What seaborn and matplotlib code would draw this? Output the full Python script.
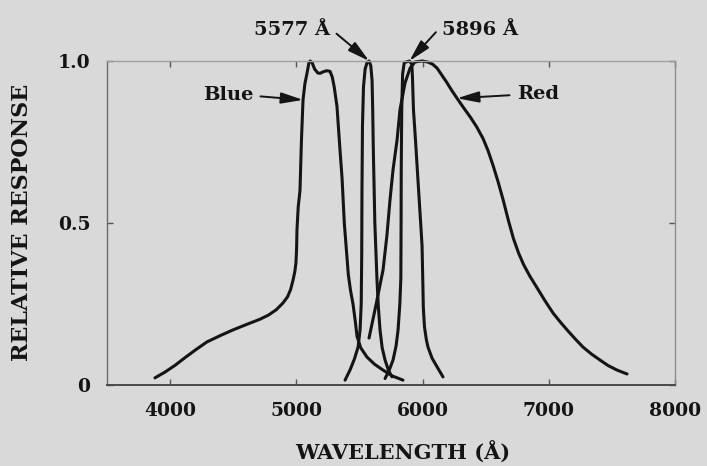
import matplotlib
matplotlib.use("Agg")
import matplotlib.pyplot as plt
import pandas as pd
import seaborn as sns

# Filter response curves: wavelength (Å) and relative response
blue_wl = [3880, 3960, 4040, 4120, 4200, 4292, 4400, 4498, 4600, 4712, 4780, 4840,
           4894, 4930, 4955, 4974, 4988, 4997, 5002, 5005, 5015, 5029, 5040, 5053,
           5068, 5085, 5100, 5110, 5125, 5145, 5170, 5188, 5215, 5240, 5267, 5285,
           5300, 5322, 5346, 5362, 5380, 5400, 5412, 5430, 5449, 5466, 5481, 5510,
           5560, 5620, 5687, 5760, 5845]
blue_resp = [0.022, 0.040, 0.061, 0.085, 0.108, 0.133, 0.153, 0.170, 0.186, 0.203, 0.216, 0.232,
             0.253, 0.272, 0.295, 0.324, 0.350, 0.377, 0.420, 0.478, 0.550, 0.600, 0.750, 0.880,
             0.930, 0.963, 0.995, 1.000, 0.995, 0.975, 0.963, 0.962, 0.967, 0.970, 0.968, 0.950,
             0.920, 0.860, 0.725, 0.640, 0.500, 0.400, 0.340, 0.290, 0.250, 0.200, 0.150, 0.115,
             0.086, 0.064, 0.046, 0.028, 0.015]

line5577_wl = [5386, 5425, 5460, 5489, 5505, 5514, 5518, 5520, 5524, 5532, 5545, 5560,
               5577, 5590, 5600, 5605, 5610, 5622, 5639, 5650, 5663, 5680, 5703, 5730, 5758]
line5577_resp = [0.015, 0.046, 0.080, 0.117, 0.170, 0.250, 0.400, 0.600, 0.800, 0.920, 0.975, 0.995,
                 1.000, 0.985, 0.940, 0.850, 0.725, 0.500, 0.324, 0.240, 0.170, 0.115, 0.077, 0.045, 0.025]

line5896_wl = [5703, 5735, 5766, 5790, 5806, 5820, 5828, 5830, 5831, 5835, 5842, 5855,
               5896, 5915, 5920, 5928, 5945, 5964, 5985, 5996, 6002, 6006, 6015, 6030,
               6043, 6075, 6115, 6162]
line5896_resp = [0.020, 0.045, 0.077, 0.120, 0.170, 0.250, 0.330, 0.500, 0.660, 0.850, 0.960, 0.995,
                 1.000, 0.990, 0.950, 0.850, 0.750, 0.630, 0.500, 0.430, 0.320, 0.240, 0.180, 0.140,
                 0.117, 0.083, 0.056, 0.025]

red_wl = [5576, 5631, 5687, 5718, 5742, 5766, 5798, 5821, 5861, 5901, 5940, 5996,
          6040, 6080, 6115, 6150, 6190, 6230, 6273, 6330, 6380, 6430, 6480, 6520,
          6560, 6600, 6638, 6680, 6720, 6760, 6800, 6850, 6907, 6970, 7034, 7090,
          7145, 7210, 7271, 7340, 7406, 7470, 7541, 7620]
red_resp = [0.145, 0.247, 0.355, 0.463, 0.571, 0.664, 0.756, 0.849, 0.932, 0.978, 0.997, 1.000,
            0.997, 0.990, 0.978, 0.958, 0.935, 0.910, 0.885, 0.853, 0.826, 0.796, 0.760, 0.722,
            0.676, 0.625, 0.572, 0.508, 0.452, 0.408, 0.372, 0.336, 0.300, 0.260, 0.222, 0.195,
            0.170, 0.142, 0.117, 0.095, 0.077, 0.060, 0.046, 0.034]

x_ticks = [4000, 5000, 6000, 7000, 8000]
y_ticks = [0, 0.5, 1.0]
y_tick_labels = ["0", "0.5", "1.0"]

curves = {
    "Blue": (blue_wl, blue_resp),
    "5577": (line5577_wl, line5577_resp),
    "5896": (line5896_wl, line5896_resp),
    "Red": (red_wl, red_resp),
}
df = pd.concat(
    [pd.DataFrame({"wavelength": w, "response": r, "filter": name})
     for name, (w, r) in curves.items()],
    ignore_index=True,
)

paper = "#d9d9d9"
ink = "#141414"

sns.set_theme(style="ticks")
plt.rcParams["font.family"] = ["DejaVu Serif"]
plt.rcParams["font.weight"] = "bold"

fig = plt.figure(figsize=(7.07, 4.66), dpi=100, facecolor=paper)
ax = fig.add_axes([107 / 707, 1 - 385 / 466, 568 / 707, 324 / 466])
ax.set_facecolor(paper)

sns.lineplot(
    data=df, x="wavelength", y="response", hue="filter",
    palette={name: ink for name in curves}, estimator=None, sort=False,
    legend=False, linewidth=2.2, ax=ax, clip_on=False,
)

ax.set_xlim(3500, 8000)
ax.set_ylim(0, 1.0)
ax.set_xticks(x_ticks)
ax.set_xticklabels([str(t) for t in x_ticks])
ax.set_yticks(y_ticks)
ax.set_yticklabels(y_tick_labels)
ax.tick_params(axis="both", direction="in", length=4, width=1.0, colors="#555555",
               labelcolor=ink, labelsize=13.5, top=True, right=True)
ax.tick_params(axis="x", pad=12.5)
ax.tick_params(axis="y", pad=12)
for lab in ax.get_xticklabels() + ax.get_yticklabels():
    lab.set_fontweight("bold")

for side, col, lw in [("left", "#6a6a6a", 1.0), ("bottom", "#4a4a4a", 1.4),
                      ("top", "#a0a0a0", 1.0), ("right", "#8e8e8e", 1.0)]:
    ax.spines[side].set_color(col)
    ax.spines[side].set_linewidth(lw)
    ax.spines[side].set_visible(True)

ax.set_xlabel("WAVELENGTH (Å)", fontsize=15, fontweight="bold", color=ink, va="baseline")
ax.xaxis.set_label_coords(0.521, -0.231)
ax.set_ylabel("RELATIVE RESPONSE", fontsize=16, fontweight="bold", color=ink)
ax.yaxis.set_label_coords(-0.130, 0.503)


def point_at(wl, resp, w):
    i = wl.index(w)
    return wl[i], resp[i]


def peak(wl, resp):
    i = max(range(len(resp)), key=lambda k: resp[k])
    return wl[i], resp[i]


arrow = dict(arrowstyle="-|>,head_length=0.95,head_width=0.24", color=ink, lw=1.4,
             mutation_scale=14, shrinkA=3, shrinkB=0)
label_kw = dict(fontsize=14, fontweight="bold", color=ink, annotation_clip=False,
                textcoords="data", xycoords="data")

ax.annotate("5577 Å", xy=peak(line5577_wl, line5577_resp), xytext=(5267, 1.080),
            ha="right", va="baseline",
            arrowprops=dict(arrow, relpos=(1.0, 0.6)), **label_kw)
ax.annotate("5896 Å", xy=peak(line5896_wl, line5896_resp), xytext=(6154, 1.080),
            ha="left", va="baseline",
            arrowprops=dict(arrow, relpos=(0.0, 0.75)), **label_kw)
ax.annotate("Blue", xy=point_at(blue_wl, blue_resp, 5053), xytext=(4657, 0.880),
            ha="right", va="baseline",
            arrowprops=dict(arrow, relpos=(1.0, 0.45)), **label_kw)
ax.annotate("Red", xy=point_at(red_wl, red_resp, 6273), xytext=(6748, 0.883),
            ha="left", va="baseline",
            arrowprops=dict(arrow, relpos=(0.0, 0.45)), **label_kw)

fig.savefig("out.png", dpi=100, facecolor=paper)
